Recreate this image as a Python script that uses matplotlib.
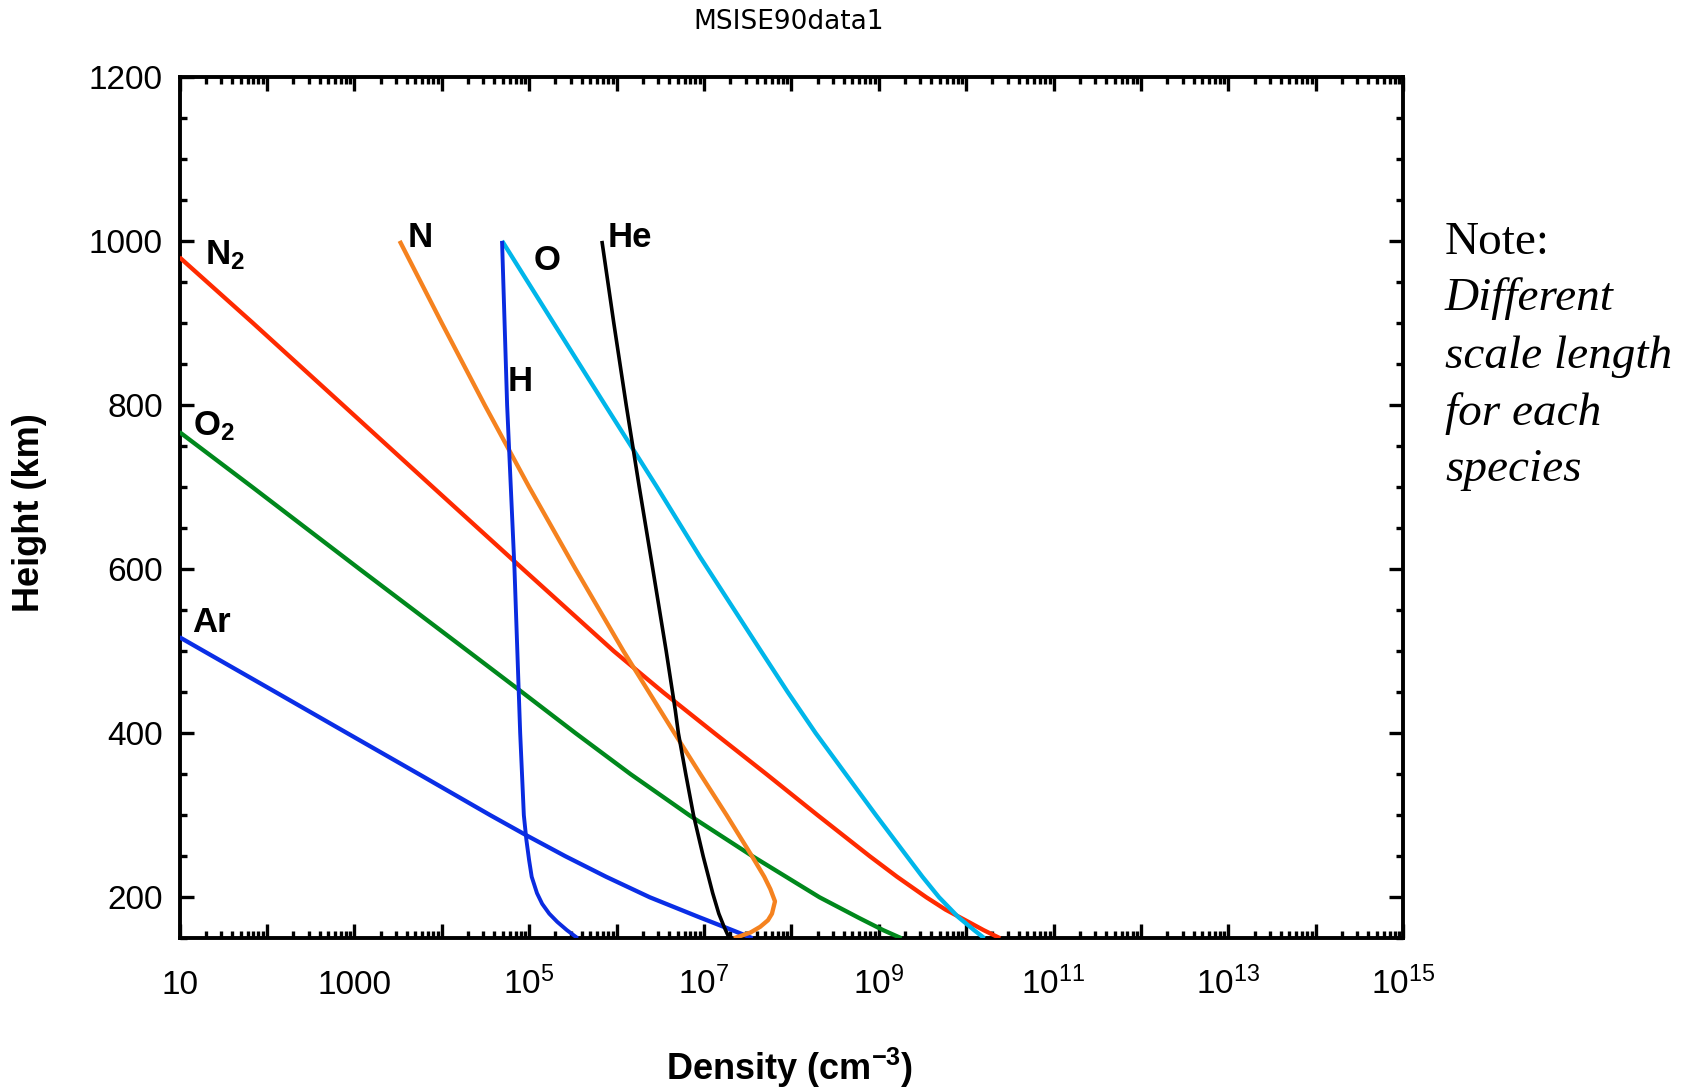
import matplotlib
matplotlib.use("Agg")
import matplotlib.pyplot as plt
from matplotlib.ticker import FixedLocator, LogLocator, NullFormatter, MultipleLocator, FuncFormatter
import numpy as np

plt.rcParams['font.family'] = ['Liberation Sans', 'DejaVu Sans']
plt.rcParams['mathtext.fontset'] = 'custom'
plt.rcParams['mathtext.rm'] = 'Liberation Sans'
plt.rcParams['mathtext.it'] = 'Liberation Sans:italic'
plt.rcParams['mathtext.bf'] = 'Liberation Sans:bold'

# ---------------- data ----------------
n2_h = [980, 900, 800, 700, 600, 500, 450, 400, 350, 300, 250, 225, 200, 185, 172, 160, 150]
n2_n = [1.0e1, 6.9e1, 7.4e2, 7.9e3, 8.5e4, 9.3e5, 3.4e6, 1.32e7, 5.2e7, 2.0e8, 7.9e8,
        1.62e9, 3.5e9, 5.8e9, 9.8e9, 1.58e10, 2.45e10]

o2_h = [767, 700, 600, 500, 450, 400, 350, 300, 250, 200, 175, 160, 150]
o2_n = [1.0e1, 6.8e1, 1.15e3, 2.0e4, 8.3e4, 3.4e5, 1.45e6, 6.8e6, 3.6e7, 2.1e8,
        5.9e8, 1.12e9, 1.82e9]

ar_h = [517, 500, 450, 400, 350, 300, 275, 250, 225, 200, 176, 160, 150]
ar_n = [1.0e1, 1.9e1, 1.26e2, 8.3e2, 5.5e3, 3.6e4, 9.5e4, 2.6e5, 7.6e5, 2.4e6,
        8.7e6, 2.1e7, 3.6e7]

h_h = [1000, 800, 600, 400, 300, 270, 245, 225, 205, 192, 180, 170, 160, 150]
h_n = [4.9e4, 5.6e4, 6.8e4, 7.9e4, 8.7e4, 9.3e4, 1.0e5, 1.07e5, 1.23e5, 1.41e5,
       1.7e5, 2.1e5, 2.7e5, 3.6e5]

n_h = [1000, 900, 800, 700, 600, 500, 400, 350, 300, 250, 225, 210, 195, 180, 172,
       164, 157, 150]
n_n = [3.3e3, 1.0e4, 3.1e4, 1.0e5, 3.4e5, 1.2e6, 4.6e6, 9.1e6, 1.82e7, 3.55e7, 4.9e7,
       5.75e7, 6.5e7, 6.0e7, 5.4e7, 4.4e7, 3.4e7, 2.2e7]

he_h = [1000, 900, 800, 700, 600, 500, 428, 400, 350, 300, 250, 205, 180, 164, 150]
he_n = [6.8e5, 9.3e5, 1.29e6, 1.82e6, 2.6e6, 3.7e6, 4.7e6, 5.1e6, 6.2e6, 7.6e6,
        9.8e6, 1.26e7, 1.48e7, 1.7e7, 1.95e7]

o_h = [1000, 900, 800, 700, 615, 500, 450, 400, 350, 300, 250, 225, 200, 176, 160, 150]
o_n = [4.9e4, 1.9e5, 7.4e5, 2.9e6, 9.0e6, 4.5e7, 9.1e7, 1.9e8, 4.2e8, 9.3e8, 2.1e9,
       3.16e9, 4.9e9, 8.1e9, 1.23e10, 1.62e10]

x_tick_exps = list(range(1, 16))
y_ticks = [200, 400, 600, 800, 1000, 1200]

note_lines = ["Note:", "Different", "scale length", "for each", "species"]

# ---------------- figure ----------------
W, H = 1695, 1088
fig = plt.figure(figsize=(W / 100, H / 100), dpi=100)
L, R, T, B = 179.5, 1403.2, 76.8, 938.3
ax = fig.add_axes([L / W, 1 - B / H, (R - L) / W, (B - T) / H])

series = [
    (n2_n, n2_h, '#ff2a00', 3.1),
    (o2_n, o2_h, '#00881c', 3.1),
    (ar_n, ar_h, '#0a2ee6', 3.1),
    (n_n, n_h, '#f5821f', 3.1),
    (o_n, o_h, '#00b6ea', 3.1),
    (h_n, h_h, '#0a2be0', 2.8),
    (he_n, he_h, '#000000', 2.6),
]
for xs, ys, c, lw in series:
    ax.plot(xs, ys, color=c, lw=lw, solid_capstyle='butt', solid_joinstyle='round', zorder=3)

ax.set_xscale('log')
ax.set_xlim(10, 1e15)
ax.set_ylim(150, 1200)

ax.xaxis.set_major_locator(FixedLocator([10.0 ** e for e in x_tick_exps]))
ax.xaxis.set_minor_locator(LogLocator(base=10, subs=np.arange(2, 10), numticks=100))
ax.xaxis.set_minor_formatter(NullFormatter())


def xfmt(v, pos):
    e = int(round(np.log10(v)))
    if e % 2 == 0:
        return ''
    if e == 1:
        return '10'
    if e == 3:
        return '1000'
    return r'$10^{%d}$' % e


ax.xaxis.set_major_formatter(FuncFormatter(xfmt))
ax.yaxis.set_major_locator(FixedLocator(y_ticks))
ax.yaxis.set_minor_locator(MultipleLocator(50))

for s in ax.spines.values():
    s.set_linewidth(2.8)

ax.tick_params(which='both', direction='in', top=True, right=True, width=2.4)
ax.tick_params(which='major', length=10, labelsize=24)
ax.tick_params(which='minor', length=5)
ax.tick_params(axis='y', which='major', pad=12)
ax.tick_params(axis='x', which='major', pad=40)
fig.canvas.draw()
for lab in ax.get_xticklabels():
    lab.set_verticalalignment('baseline')

# species labels
labels = [
    (r'$\mathbf{N}_{\mathbf{2}}$', 19.8, 971),
    (r'$\mathbf{O}_{\mathbf{2}}$', 14.1, 763),
    ('Ar', 14.1, 523),
    ('N', 4.1e3, 993),
    ('O', 1.14e5, 964),
    ('He', 7.9e5, 992),
    ('H', 5.74e4, 817),
]
for txt, x, y in labels:
    ax.text(x, y, txt, fontsize=25, fontweight='bold', ha='left', va='baseline', zorder=4)

fig.text(789 / W, 1 - 22 / H, 'MSISE90data1', ha='center', va='center',
         fontsize=19, family='DejaVu Sans')
fig.text(30 / W, 1 - 513 / H, 'Height (km)', rotation=90, ha='center', va='center',
         fontsize=26, fontweight='bold')
fig.text(790 / W, 1 - 1068 / H, r'Density (cm$^{\mathbf{-3}}$)', ha='center', va='center',
         fontsize=26, fontweight='bold')

baselines = [254, 310, 368, 425, 481]
for i, (line, yb) in enumerate(zip(note_lines, baselines)):
    fig.text(1445 / W, 1 - yb / H, line, ha='left', va='baseline', fontsize=34,
             family='Liberation Serif', style='normal' if i == 0 else 'italic')

fig.savefig('out.png', dpi=100)
